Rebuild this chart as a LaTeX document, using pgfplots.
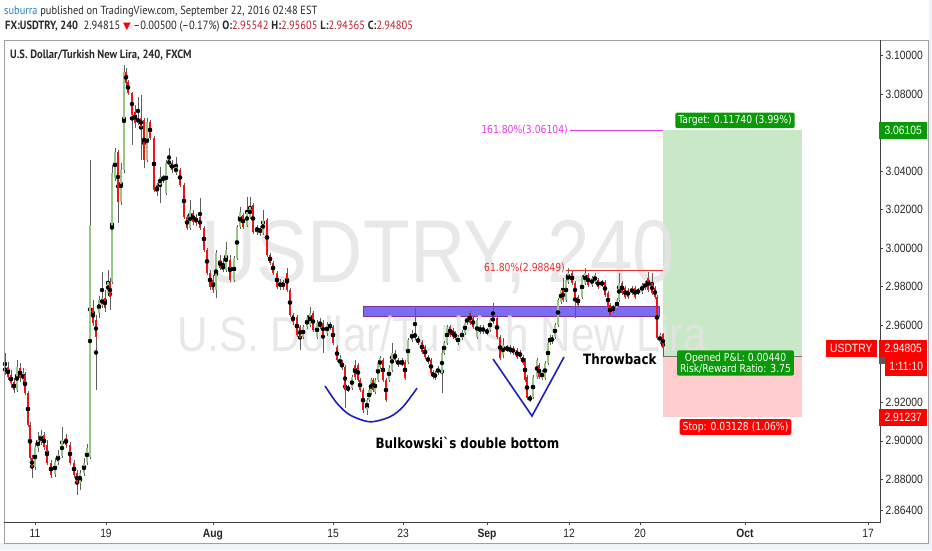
\documentclass[border=0pt]{standalone}
\usepackage{fontspec}
\usepackage{pgfplots}
\usepackage{pgfplotstable}
\pgfplotsset{compat=1.18}
\setmainfont{DejaVu Sans}[FakeStretch=0.84]
\newfontfamily\tvsans{Liberation Sans}[FakeStretch=0.86]
\newfontfamily\hdr{PT Sans}[FakeStretch=0.88]
\newfontfamily\dvs{DejaVu Sans}

\definecolor{upgreen}{RGB}{150,200,130}
\definecolor{downred}{RGB}{238,20,20}
\definecolor{wick}{RGB}{95,95,95}
\definecolor{bandfill}{RGB}{124,108,240}
\definecolor{bandline}{RGB}{120,50,170}
\definecolor{tgtfill}{RGB}{200,232,200}
\definecolor{stopfill}{RGB}{255,205,205}
\definecolor{taggreen}{RGB}{9,153,9}
\definecolor{tagred}{RGB}{255,0,0}
\definecolor{fibred}{RGB}{232,45,45}
\definecolor{fibmag}{RGB}{228,60,228}
\definecolor{arcblue}{RGB}{30,30,190}
\definecolor{wmark}{RGB}{228,228,228}
\definecolor{hdrblue}{RGB}{41,128,200}
\definecolor{hdrtext}{RGB}{40,40,40}
\definecolor{valred}{RGB}{190,30,45}
\definecolor{pagebg}{RGB}{240,243,245}
\definecolor{framegray}{RGB}{160,160,160}

% 4h candles, x = horizontal position of the bar
\pgfplotstableread{
x o h l c
5 2.9357 2.9456 2.9342 2.9383
8 2.9383 2.9409 2.9316 2.9331
11 2.9342 2.9368 2.9274 2.9300
14 2.9305 2.9326 2.9248 2.9264
17 2.9264 2.9420 2.9254 2.9383
20 2.9378 2.9404 2.9305 2.9326
23 2.9316 2.9378 2.9300 2.9352
25 2.9342 2.9357 2.9238 2.9248
28 2.9248 2.9259 2.9072 2.9082
30 2.9082 2.9098 2.8901 2.8911
32 2.8911 2.8927 2.8807 2.8864
35 2.8864 2.8989 2.8849 2.8968
38 2.8963 2.9046 2.8942 2.9004
41 2.8994 2.9056 2.8978 2.9030
44 2.9030 2.9046 2.8953 2.8968
47 2.8978 2.9004 2.8875 2.8885
51 2.8885 2.8901 2.8807 2.8823
55 2.8828 2.8911 2.8812 2.8890
58 2.8890 2.8953 2.8875 2.8927
62 2.8921 2.9072 2.8911 2.9004
66 2.9015 2.9036 2.8963 2.8978
70 2.8978 2.8994 2.8875 2.8885
74 2.8885 2.8901 2.8807 2.8823
77 2.8833 2.8849 2.8719 2.8781
80 2.8781 2.8849 2.8745 2.8833
84 2.8833 2.8911 2.8818 2.8885
87 2.8890 2.8984 2.8875 2.8963
90 2.8916 3.0458 2.8906 3.0120
93 2.9689 2.9731 2.9596 2.9612
96 2.9627 2.9653 2.9264 2.9539
99 2.9664 2.9752 2.9638 2.9731
102 2.9705 2.9876 2.9689 2.9741
105 2.9741 2.9783 2.9669 2.9689
108 2.9767 2.9887 2.9752 2.9824
110 2.9819 2.9845 2.9679 2.9747
112 2.9824 3.0432 2.9814 3.0390
115 3.0364 3.0520 3.0349 3.0499
118 3.0499 3.0510 3.0131 3.0240
121 3.0240 3.0442 3.0224 3.0406
124 3.0406 3.0951 3.0390 3.0914
126 3.0914 3.0935 3.0842 3.0857
128 3.0862 3.0873 3.0795 3.0805
132 3.0805 3.0811 3.0535 3.0691
135 3.0707 3.0743 3.0624 3.0650
138 3.0650 3.0785 3.0639 3.0676
141 3.0676 3.0795 3.0458 3.0629
144 3.0665 3.0676 3.0416 3.0458
147 3.0458 3.0676 3.0447 3.0655
150 3.0655 3.0665 3.0561 3.0572
154 3.0572 3.0582 3.0292 3.0302
157 3.0328 3.0338 3.0271 3.0292
160 3.0328 3.0421 3.0234 3.0369
163 3.0369 3.0380 3.0338 3.0354
166 3.0286 3.0458 3.0276 3.0442
169 3.0432 3.0520 3.0421 3.0458
172 3.0442 3.0458 3.0390 3.0406
176 3.0390 3.0473 3.0380 3.0421
180 3.0406 3.0416 3.0317 3.0328
184 3.0328 3.0338 3.0151 3.0162
187 3.0162 3.0172 3.0094 3.0105
190 3.0105 3.0250 3.0094 3.0198
193 3.0183 3.0198 3.0120 3.0136
196 3.0162 3.0177 3.0115 3.0131
200 3.0162 3.0260 3.0094 3.0105
204 3.0105 3.0115 2.9980 2.9991
207 2.9991 3.0001 2.9861 2.9871
210 2.9871 2.9887 2.9783 2.9798
213 2.9835 2.9861 2.9767 2.9783
216 2.9783 2.9991 2.9741 2.9975
220 2.9939 2.9965 2.9887 2.9897
223 2.9887 2.9949 2.9876 2.9913
226 2.9887 3.0032 2.9876 2.9991
230 2.9939 2.9965 2.9824 2.9835
234 2.9835 2.9959 2.9824 2.9949
237 2.9949 3.0120 2.9939 3.0110
240 3.0110 3.0214 3.0099 3.0188
243 3.0172 3.0183 3.0099 3.0110
247 3.0120 3.0266 3.0110 3.0188
250 3.0162 3.0266 3.0151 3.0214
253 3.0224 3.0234 3.0074 3.0084
257 3.0110 3.0120 3.0068 3.0084
260 3.0105 3.0115 3.0063 3.0079
263 3.0079 3.0198 3.0068 3.0146
267 3.0146 3.0157 2.9954 2.9965
270 2.9965 2.9975 2.9913 2.9923
273 2.9923 2.9933 2.9861 2.9871
277 2.9871 2.9882 2.9788 2.9798
280 2.9798 2.9840 2.9783 2.9824
283 2.9824 2.9835 2.9783 2.9798
287 2.9871 2.9897 2.9773 2.9783
290 2.9783 2.9793 2.9643 2.9653
293 2.9653 2.9664 2.9601 2.9617
297 2.9643 2.9653 2.9539 2.9549
300 2.9591 2.9601 2.9472 2.9534
303 2.9539 2.9601 2.9529 2.9591
307 2.9591 2.9653 2.9580 2.9638
310 2.9601 2.9695 2.9591 2.9664
313 2.9664 2.9674 2.9565 2.9575
317 2.9539 2.9627 2.9529 2.9612
320 2.9612 2.9638 2.9580 2.9591
323 2.9612 2.9627 2.9456 2.9549
327 2.9560 2.9617 2.9544 2.9601
330 2.9591 2.9617 2.9575 2.9601
333 2.9591 2.9601 2.9497 2.9508
337 2.9487 2.9497 2.9409 2.9420
340 2.9394 2.9446 2.9383 2.9430
342 2.9409 2.9420 2.9368 2.9378
345 2.9383 2.9394 2.9170 2.9264
348 2.9264 2.9290 2.9254 2.9279
352 2.9274 2.9342 2.9264 2.9331
355 2.9394 2.9420 2.9316 2.9331
358 2.9394 2.9404 2.9305 2.9316
360 2.9316 2.9326 2.9254 2.9264
363 2.9264 2.9274 2.9145 2.9160
367 2.9160 2.9222 2.9134 2.9212
369 2.9212 2.9274 2.9202 2.9264
371 2.9248 2.9326 2.9238 2.9316
373 2.9316 2.9326 2.9254 2.9264
375 2.9254 2.9326 2.9243 2.9316
378 2.9316 2.9420 2.9305 2.9404
380 2.9383 2.9440 2.9373 2.9430
383 2.9420 2.9430 2.9305 2.9316
386 2.9316 2.9326 2.9202 2.9212
389 2.9316 2.9394 2.9305 2.9378
392 2.9368 2.9508 2.9357 2.9456
395 2.9456 2.9472 2.9409 2.9420
398 2.9420 2.9430 2.9383 2.9394
402 2.9399 2.9430 2.9388 2.9409
405 2.9409 2.9420 2.9316 2.9326
408 2.9409 2.9534 2.9399 2.9523
412 2.9523 2.9575 2.9513 2.9560
415 2.9560 2.9689 2.9523 2.9534
418 2.9534 2.9544 2.9497 2.9508
422 2.9513 2.9523 2.9451 2.9461
425 2.9487 2.9497 2.9425 2.9435
428 2.9435 2.9446 2.9399 2.9409
431 2.9420 2.9430 2.9342 2.9352
433 2.9357 2.9368 2.9321 2.9331
435 2.9326 2.9363 2.9316 2.9352
438 2.9352 2.9388 2.9342 2.9378
442 2.9352 2.9472 2.9248 2.9456
444 2.9456 2.9518 2.9446 2.9508
447 2.9508 2.9601 2.9497 2.9591
450 2.9591 2.9601 2.9539 2.9549
453 2.9575 2.9586 2.9529 2.9539
455 2.9560 2.9570 2.9523 2.9534
458 2.9508 2.9549 2.9497 2.9539
462 2.9534 2.9575 2.9523 2.9565
465 2.9560 2.9627 2.9549 2.9612
467 2.9612 2.9648 2.9601 2.9638
470 2.9664 2.9674 2.9601 2.9612
473 2.9638 2.9648 2.9580 2.9591
477 2.9539 2.9638 2.9529 2.9627
480 2.9591 2.9601 2.9555 2.9565
483 2.9565 2.9601 2.9555 2.9591
487 2.9575 2.9586 2.9549 2.9560
490 2.9575 2.9638 2.9565 2.9627
493 2.9617 2.9715 2.9606 2.9643
497 2.9638 2.9648 2.9529 2.9539
500 2.9539 2.9549 2.9420 2.9430
503 2.9446 2.9534 2.9430 2.9497
507 2.9472 2.9497 2.9461 2.9487
510 2.9487 2.9497 2.9451 2.9461
513 2.9482 2.9492 2.9446 2.9456
517 2.9472 2.9482 2.9425 2.9435
520 2.9461 2.9472 2.9425 2.9435
523 2.9435 2.9446 2.9394 2.9404
525 2.9420 2.9430 2.9305 2.9316
527 2.9331 2.9342 2.9212 2.9222
530 2.9228 2.9238 2.9202 2.9212
533 2.9228 2.9342 2.9217 2.9331
537 2.9331 2.9430 2.9321 2.9420
539 2.9394 2.9404 2.9321 2.9331
542 2.9326 2.9368 2.9316 2.9357
545 2.9326 2.9414 2.9316 2.9404
548 2.9404 2.9518 2.9394 2.9508
550 2.9508 2.9549 2.9497 2.9539
552 2.9539 2.9549 2.9503 2.9513
555 2.9539 2.9612 2.9529 2.9601
558 2.9601 2.9741 2.9591 2.9731
561 2.9721 2.9793 2.9710 2.9783
563 2.9783 2.9845 2.9721 2.9731
566 2.9731 2.9845 2.9721 2.9835
568 2.9824 2.9897 2.9814 2.9871
572 2.9871 2.9882 2.9809 2.9819
575 2.9819 2.9830 2.9638 2.9747
578 2.9747 2.9757 2.9695 2.9705
582 2.9747 2.9861 2.9736 2.9850
585 2.9819 2.9897 2.9809 2.9871
588 2.9861 2.9871 2.9798 2.9809
592 2.9809 2.9856 2.9798 2.9845
595 2.9824 2.9871 2.9814 2.9861
598 2.9835 2.9845 2.9788 2.9798
602 2.9809 2.9835 2.9798 2.9824
605 2.9824 2.9835 2.9747 2.9757
608 2.9767 2.9778 2.9684 2.9695
610 2.9705 2.9715 2.9643 2.9653
613 2.9679 2.9705 2.9664 2.9695
617 2.9689 2.9741 2.9679 2.9731
619 2.9731 2.9871 2.9721 2.9819
622 2.9819 2.9830 2.9757 2.9767
625 2.9793 2.9804 2.9736 2.9747
628 2.9783 2.9793 2.9736 2.9747
632 2.9767 2.9804 2.9757 2.9793
635 2.9793 2.9804 2.9736 2.9747
638 2.9767 2.9793 2.9757 2.9783
642 2.9773 2.9819 2.9762 2.9809
645 2.9793 2.9830 2.9783 2.9819
648 2.9845 2.9876 2.9773 2.9783
652 2.9819 2.9871 2.9757 2.9767
655 2.9793 2.9804 2.9736 2.9747
657 2.9747 2.9757 2.9523 2.9534
660 2.9513 2.9560 2.9503 2.9549
663 2.95542 2.95605 2.94365 2.94805
}\candles

\newcommand{\tickfont}{\tvsans\fontsize{12}{12}\selectfont}

\begin{document}
\begin{tikzpicture}[
    tag/.style={font=\tickfont, text=white, inner sep=0pt, minimum height=17pt},
    box/.style={font=\fontsize{11}{12.5}\selectfont, text=white, rounded corners=2pt,
                inner xsep=3pt, inner ysep=2.5pt},
    note/.style={font=\bfseries\fontsize{14.2}{16}\selectfont, text=black, inner sep=0pt}
]
\path[use as bounding box] (0pt,0pt) rectangle (932pt,550pt);
\fill[pagebg] (0pt,0pt) rectangle (932pt,550pt);
\fill[white] (0pt,7pt) rectangle (929pt,550pt);
\draw[framegray, line width=0.8pt] (4pt,7pt) rectangle (928pt,510pt);

% header
\node[anchor=base west, inner sep=0pt, text=hdrtext, font=\hdr\fontsize{11.8}{13}\selectfont]
    at (4pt,535pt) {\textcolor{hdrblue}{suburra} published on TradingView.com, September 22, 2016 02:48 EST};
\node[anchor=base west, inner sep=0pt, text=hdrtext, font=\hdr\fontsize{11.9}{13}\selectfont]
    at (5pt,520pt) {\textbf{FX:USDTRY, 240}\ \ 2.94815 {\dvs\fontsize{10}{10}\selectfont\textcolor{tagred}{▼}} –0.00500 (–0.17\%)
    \textbf{O:}\textcolor{valred}{2.95542} \textbf{H:}\textcolor{valred}{2.95605} \textbf{L:}\textcolor{valred}{2.94365} \textbf{C:}\textcolor{valred}{2.94805}};
\node[anchor=west, inner sep=0pt, text=hdrtext, font=\hdr\bfseries\fontsize{12}{13}\selectfont]
    at (10pt,495pt) {U.S. Dollar/Turkish New Lira, 240, FXCM};

\begin{axis}[
    at={(4pt,28pt)}, anchor=south west,
    scale only axis, width=876pt, height=482pt,
    xmin=4, xmax=880, ymin=2.8579, ymax=3.1080,
    clip mode=individual,
    axis line style={draw=black!75, line width=0.8pt},
    xtick pos=bottom, ytick pos=right, yticklabel pos=right,
    tick align=outside, major tick length=3pt,
    tick style={draw=black!75, line width=0.6pt},
    xtick={35,106,213,333,403,487,569,640,745,868},
    xticklabels={11,19,\textbf{Aug},15,23,\textbf{Sep},12,20,\textbf{Oct},17},
    ytick={2.864,2.88,2.90,2.92,2.96,2.98,3.00,3.02,3.04,3.08,3.10},
    scaled y ticks=false,
    yticklabel style={/pgf/number format/fixed, /pgf/number format/zerofill,
        /pgf/number format/precision=5, /pgf/number format/1000 sep={},
        /pgf/number format/assume math mode=true, xshift=-1pt},
    ticklabel style={font=\tickfont, text=black!85},
    xticklabel style={yshift=-1pt},
]

% support band
\fill[bandfill, draw=bandline, line width=0.6pt] (axis cs:363,2.9700) rectangle (axis cs:659,2.9648);

% long position tool (background)
\fill[tgtfill] (axis cs:663,3.06105) rectangle (axis cs:802,2.94365);
\fill[stopfill] (axis cs:663,2.94365) rectangle (axis cs:802,2.91237);
\draw[black!55, line width=0.6pt] (axis cs:663,2.94365) -- (axis cs:802,2.94365);

% watermark
\node[anchor=base, inner sep=0pt, text=wmark, opacity=0.85, font=\tvsans\fontsize{89}{89}\selectfont]
    at (axis cs:438.5,2.9824) {USDTRY, 240};
\node[anchor=base, inner sep=0pt, text=wmark, opacity=0.85, font=\tvsans\fontsize{49}{49}\selectfont]
    at (axis cs:442,2.9466) {U.S. Dollar/Turkish New Lira};

% wicks
\addplot[only marks, mark=none, forget plot,
    error bars/.cd, y dir=both, y explicit, error mark=none,
    error bar style={draw=wick, line width=0.45pt}]
    table[x=x, y expr={0.5*(\thisrow{h}+\thisrow{l})}, y error expr={0.5*(\thisrow{h}-\thisrow{l})}] {\candles};
% up bodies
\addplot[only marks, mark=none, forget plot,
    error bars/.cd, y dir=both, y explicit, error mark=none,
    error bar style={draw=upgreen, line width=2.6pt}]
    table[x=x, y expr={\thisrow{c}>=\thisrow{o} ? 0.5*(\thisrow{o}+\thisrow{c}) : nan},
          y error expr={max(0.5*abs(\thisrow{c}-\thisrow{o}),0.0004)}] {\candles};
% down bodies
\addplot[only marks, mark=none, forget plot,
    error bars/.cd, y dir=both, y explicit, error mark=none,
    error bar style={draw=downred, line width=2.6pt}]
    table[x=x, y expr={\thisrow{c}<\thisrow{o} ? 0.5*(\thisrow{o}+\thisrow{c}) : nan},
          y error expr={max(0.5*abs(\thisrow{c}-\thisrow{o}),0.0004)}] {\candles};

% double bottom sketches
\addplot[arcblue, line width=1.6pt, smooth, forget plot] coordinates {
    (325,2.9285) (337,2.9195) (350,2.9134) (370,2.9099) (390,2.9125) (403,2.9177) (417,2.9273)};
\addplot[arcblue, line width=1.6pt, forget plot] coordinates {
    (493,2.9425) (532,2.9129) (564,2.9435)};

% fibonacci levels
\draw[fibred, line width=0.7pt] (axis cs:566,2.98849) -- (axis cs:663,2.98849);
\node[anchor=east, inner sep=0pt, text=fibred, font=\fontsize{11}{12}\selectfont]
    at ([yshift=2pt]axis cs:565,2.98849) {61.80\%(2.98849)};
\draw[fibmag, line width=0.7pt] (axis cs:570,3.06104) -- (axis cs:663,3.06104);
\node[anchor=east, inner sep=0pt, text=fibmag, font=\fontsize{11}{12}\selectfont]
    at (axis cs:568,3.06104) {161.80\%(3.06104)};

% position labels
\node[box, fill=taggreen] at (axis cs:735,3.0663) {Target: 0.11740 (3.99\%)};
\node[box, fill=taggreen, align=center, font=\fontsize{11}{11}\selectfont] at (axis cs:735.5,2.9404)
    {Opened P\&L: 0.00440\\Risk/Reward Ratio: 3.75};
\node[box, fill=tagred] at (axis cs:735.5,2.9072) {Stop: 0.03128 (1.06\%)};

% notes
\node[note, anchor=west] at (axis cs:583,2.9425) {Throwback};
\node[note] at (axis cs:467.5,2.8989) {Bulkowski{\addfontfeatures{Ligatures=TeXOff}`}s double bottom};

% price tags
\node[tag, anchor=west, fill=taggreen, minimum width=48pt] at (axis cs:879,3.06105) {3.06105};
\node[tag, anchor=east, fill=tagred, minimum width=51pt] at (axis cs:877,2.94805) {USDTRY};
\node[tag, anchor=west, fill=tagred, minimum width=48pt] at (axis cs:879,2.94805) {2.94805};
\fill[black!65] (axis cs:879,2.9435) rectangle (axis cs:885,2.9399);
\node[tag, anchor=west, fill=tagred, minimum width=42pt, minimum height=19pt] at (axis cs:885,2.9388) {1:11:10};
\node[tag, anchor=west, fill=tagred, minimum width=48pt] at (axis cs:879,2.91237) {2.91237};
\end{axis}
\draw[framegray, line width=0.8pt] (4pt,28pt) -- (4pt,510pt) -- (880pt,510pt);
\end{tikzpicture}
\end{document}
